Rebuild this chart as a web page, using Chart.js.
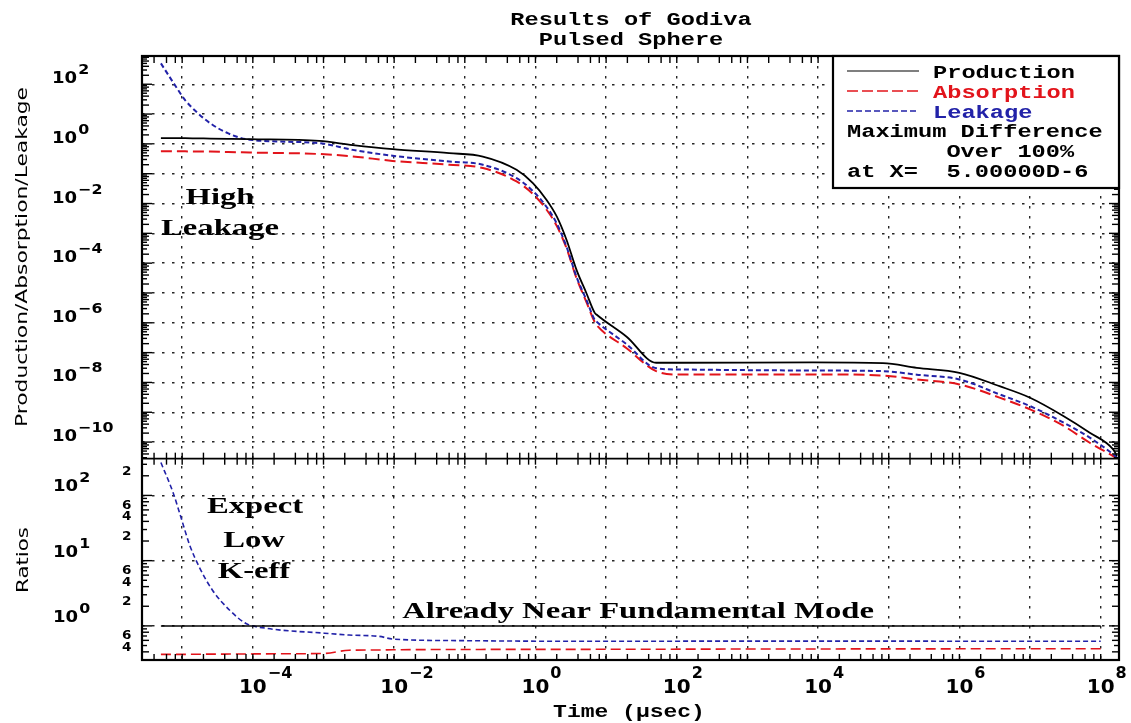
<!DOCTYPE html>
<html>
<head>
<meta charset="utf-8">
<title>Results of Godiva</title>
<script src="https://cdn.jsdelivr.net/npm/chart.js@4.4.1/dist/chart.umd.min.js"></script>
<style>
  html, body { margin: 0; padding: 0; background: #fff; }
  canvas { display: block; }
</style>
</head>
<body>
<canvas id="godivaChart" width="1131" height="723"></canvas>
<script>
// time grid (usec) for the upper panel curves
const times = [5e-6, 8e-6, 1.1e-5, 1.6e-5, 2.5e-5, 4.5e-5, 9e-5, 8.7e-4, 2.6e-3, 9.5e-3,
  0.06, 0.18, 0.54, 0.92, 1.43, 2.0, 2.75, 3.8, 5.25, 6.9, 7.3, 19.5, 51, 110,
  8.5e3, 8.3e4, 2.5e5, 1e6, 3.7e6, 1e7, 3e7, 7e7, 1.5e8, 1.7e8];
const production = [1.56, 1.55, 1.55, 1.53, 1.51, 1.48, 1.44, 1.26, 0.91, 0.667,
  0.49, 0.377, 0.135, 0.0485, 0.0134, 3.69e-3, 6.1e-4, 6.07e-5, 1.0e-5, 2.15e-6, 1.89e-6, 3.4e-7, 4.57e-8, 4.57e-8,
  4.68e-8, 4.44e-8, 3.1e-8, 2.11e-8, 7.5e-9, 3.08e-9, 7.4e-10, 2.07e-10, 5.7e-11, 3.4e-11];
const absorption = [0.571, 0.569, 0.562, 0.556, 0.55, 0.531, 0.513, 0.457, 0.38, 0.269,
  0.2, 0.155, 0.055, 0.0209, 6.3e-3, 1.78e-3, 3.2e-4, 3.2e-5, 5e-6, 1.05e-6, 8.5e-7, 1.41e-7, 2.4e-8, 1.85e-8,
  1.86e-8, 1.71e-8, 1.26e-8, 8.6e-9, 3.1e-9, 1.25e-9, 3.47e-10, 9.5e-11, 3.4e-11, 2.8e-11];
const leakage = [501, 89, 29.5, 11.7, 4.9, 2.24, 1.38, 1.06, 0.63, 0.40,
  0.257, 0.2, 0.0708, 0.0263, 7.8e-3, 2.14e-3, 3.55e-4, 3.55e-5, 5.9e-6, 1.26e-6, 1.1e-6, 1.9e-7, 3.0e-8, 2.72e-8,
  2.51e-8, 2.39e-8, 1.82e-8, 1.26e-8, 3.98e-9, 1.61e-9, 4.47e-10, 1.41e-10, 3.9e-11, 3.0e-11];

// ratios to production, lower panel
const ratioTimes = [5e-6, 7.4e-6, 9.7e-6, 1.27e-5, 1.76e-5, 2.7e-5, 4.7e-5, 8e-5, 1.55e-4,
  1.03e-3, 2.3e-3, 6.2e-3, 9.5e-3, 0.093, 4.2, 1.5e3, 1e8];
const productionRatio = [1, 1, 1, 1, 1, 1, 1, 1, 1, 1, 1, 1, 1, 1, 1, 1, 1];
const absorptionRatio = [0.366, 0.366, 0.366, 0.367, 0.368, 0.369, 0.37, 0.371, 0.373,
  0.378, 0.424, 0.427, 0.43, 0.435, 0.437, 0.442, 0.447];
const leakageRatio = [319, 112, 44.6, 17.6, 7.83, 3.49, 1.74, 1.09, 0.92,
  0.773, 0.724, 0.69, 0.628, 0.594, 0.58, 0.585, 0.58];

// decades carrying grid lines and labels
const xGridPowers = [-5, -4, -3, -2, -1, 0, 1, 2, 3, 4, 5, 6, 7, 8];
const xLabelPowers = [-4, -2, 0, 2, 4, 6, 8];
const yGridPowers = [-10, -9, -8, -7, -6, -5, -4, -3, -2, -1, 0, 1, 2];
const yLabelPowers = [2, 0, -2, -4, -6, -8, -10];
const ratioGridPowers = [0, 1, 2];
const ratioLabelPowers = [2, 1, 0];
const ratioMinorPowers = [-1, 0, 1, 2];
const ratioMinorDigits = [2, 4, 6];

const legendRows = [
  { text: 'Production', color: '#000000', dash: [] },
  { text: 'Absorption', color: '#e2141b', dash: [11, 4] },
  { text: 'Leakage', color: '#2222a8', dash: [6, 3] }
];
const noteRows = ['Maximum Difference', '       Over 100%', 'at X=  5.00000D-6'];

const pts = (xs, ys) => xs.map((t, i) => ({ x: t, y: ys[i] }));

const SANS = '"DejaVu Sans"';
const MONO = 'bold 18px "Liberation Mono"';
const SERIF = 'bold 24px "Liberation Serif"';

function stretchText(ctx, text, x, y, font, sx, align, color) {
  ctx.save();
  ctx.font = font;
  ctx.fillStyle = color || '#000';
  ctx.textAlign = align || 'left';
  ctx.textBaseline = 'alphabetic';
  ctx.translate(x, y);
  ctx.scale(sx, 1);
  ctx.fillText(text, 0, 0);
  ctx.restore();
}

function textWidth(ctx, text, font) {
  ctx.save();
  ctx.font = font;
  const w = ctx.measureText(text).width;
  ctx.restore();
  return w;
}

// monospaced text with a fixed character pitch
function monoText(ctx, text, x, y, color, pitch, align) {
  const sx = pitch / textWidth(ctx, 'M', MONO);
  stretchText(ctx, text, x, y, MONO, sx, align, color);
}

// rotated axis title, stretched to a given length
function sideTitle(ctx, text, x, yMid, len, font) {
  ctx.save();
  ctx.font = font;
  const sx = len / ctx.measureText(text).width;
  ctx.translate(x, yMid);
  ctx.rotate(-Math.PI / 2);
  ctx.scale(sx, 1);
  ctx.fillStyle = '#000';
  ctx.textAlign = 'center';
  ctx.textBaseline = 'alphabetic';
  ctx.fillText(text, 0, 0);
  ctx.restore();
}

// "10" with a raised exponent
function powerLabel(ctx, p, x, base, o) {
  const exp = p < 0 ? '\u2212' + Math.abs(p) : String(p);
  const w10 = textWidth(ctx, '10', o.font) * o.sx;
  const left = o.center ? x - w10 / 2 : x;
  stretchText(ctx, '10', left, base, o.font, o.sx);
  stretchText(ctx, exp, left + w10 + 1, base - o.rise, o.supFont, o.sx);
}

function seg(ctx, x1, y1, x2, y2) {
  ctx.beginPath();
  ctx.moveTo(x1, y1);
  ctx.lineTo(x2, y2);
  ctx.stroke();
}

const decor = {
  id: 'decor',
  beforeDraw(chart) {
    const ctx = chart.ctx;
    ctx.save();
    ctx.fillStyle = '#fff';
    ctx.fillRect(0, 0, chart.width, chart.height);
    ctx.restore();
  },
  afterDraw(chart) {
    const ctx = chart.ctx;
    const { x, y, yr } = chart.scales;
    const area = chart.chartArea;
    const mid = y.bottom;

    // tick marks on the frame and on the panel divider
    ctx.save();
    ctx.strokeStyle = '#000';
    ctx.lineWidth = 1.4;
    for (let e = -6; e <= 8; e++) {
      for (const m of [1, 2, 4, 6, 8]) {
        const v = m * Math.pow(10, e);
        if (v <= x.min || v >= x.max) continue;
        const px = x.getPixelForValue(v);
        seg(ctx, px, area.top, px, area.top + 7);
        seg(ctx, px, mid - 6, px, mid + 6);
        seg(ctx, px, area.bottom, px, area.bottom - 6);
      }
    }
    const yTicks = (scale, lo, hi) => {
      for (let e = lo; e <= hi; e++) {
        for (let m = 1; m <= 9; m++) {
          const v = m * Math.pow(10, e);
          if (v <= scale.min || v >= scale.max) continue;
          const py = scale.getPixelForValue(v);
          const len = m === 1 ? 10 : (m % 2 === 0 ? 7 : 5);
          seg(ctx, area.left, py, area.left + len, py);
          seg(ctx, area.right, py, area.right - len, py);
        }
      }
    };
    yTicks(y, -11, 2);
    yTicks(yr, -1, 2);

    // frame and divider
    ctx.lineWidth = 2.2;
    ctx.strokeRect(area.left, area.top, area.right - area.left, area.bottom - area.top);
    ctx.lineWidth = 1.8;
    seg(ctx, area.left, mid, area.right, mid);
    ctx.restore();

    // tick labels
    const yOpt = { font: 'bold 16px ' + SANS, supFont: 'bold 14px ' + SANS, sx: 1.13, rise: 9 };
    yLabelPowers.forEach(p => {
      powerLabel(ctx, p, 52, y.getPixelForValue(Math.pow(10, p)) - 1, yOpt);
    });
    ratioLabelPowers.forEach(p => {
      powerLabel(ctx, p, 53, yr.getPixelForValue(Math.pow(10, p)) - 4, yOpt);
    });
    ratioMinorPowers.forEach(p => {
      ratioMinorDigits.forEach(d => {
        const v = d * Math.pow(10, p);
        if (v <= yr.min || v >= yr.max) return;
        stretchText(ctx, String(d), 122, yr.getPixelForValue(v) - 1, 'bold 12px ' + SANS, 1.13);
      });
    });
    const xOpt = { font: 'bold 20px ' + SANS, supFont: 'bold 16px ' + SANS, sx: 1, rise: 15, center: true };
    xLabelPowers.forEach(p => {
      powerLabel(ctx, p, x.getPixelForValue(Math.pow(10, p)), 693, xOpt);
    });

    // titles
    monoText(ctx, 'Results of Godiva', 631, 25, '#000', 14.2, 'center');
    monoText(ctx, 'Pulsed Sphere', 631, 45, '#000', 14.2, 'center');
    monoText(ctx, 'Time (\u03bcsec)', 629, 717, '#000', 13.8, 'center');
    sideTitle(ctx, 'Production/Absorption/Leakage', 27, 257, 340, '15px ' + SANS);
    sideTitle(ctx, 'Ratios', 28, 560, 66, '16px ' + SANS);

    // notes written on the plot
    stretchText(ctx, 'High', 220, 204, SERIF, 1.36, 'center');
    stretchText(ctx, 'Leakage', 220, 235, SERIF, 1.36, 'center');
    stretchText(ctx, 'Expect', 255, 513, SERIF, 1.36, 'center');
    stretchText(ctx, 'Low', 254, 547, SERIF, 1.36, 'center');
    stretchText(ctx, 'K-eff', 254, 578, SERIF, 1.36, 'center');
    stretchText(ctx, 'Already Near Fundamental Mode', 638, 618, SERIF, 1.36, 'center');

    // legend box in the upper right corner
    const bx = 833, by = area.top, bw = area.right - bx, bh = 132;
    ctx.save();
    ctx.fillStyle = '#fff';
    ctx.fillRect(bx, by, bw, bh);
    ctx.strokeStyle = '#000';
    ctx.lineWidth = 2.2;
    ctx.strokeRect(bx, by, bw, bh);
    legendRows.forEach((row, i) => {
      const ly = by + 15 + i * 20;
      ctx.strokeStyle = row.color;
      ctx.lineWidth = row.dash.length ? 1.6 : 1.2;
      ctx.setLineDash(row.dash);
      seg(ctx, 847, ly, 919, ly);
      ctx.setLineDash([]);
      monoText(ctx, row.text, 933, ly + 6.5, row.color, 14.2, 'left');
    });
    noteRows.forEach((t, i) => {
      monoText(ctx, t, 847, by + 81 + i * 20, '#000', 14.2, 'left');
    });
    ctx.restore();
  }
};

const gridStyle = { color: 'rgba(0,0,0,0.85)', lineWidth: 1.4, drawTicks: false };
const gridBorder = { display: false, dash: [2.5, 7.5] };

new Chart(document.getElementById('godivaChart'), {
  type: 'line',
  data: {
    datasets: [
      { label: 'Production', data: pts(times, production), xAxisID: 'x', yAxisID: 'y',
        borderColor: '#000', borderWidth: 1.8 },
      { label: 'Leakage', data: pts(times, leakage), xAxisID: 'x', yAxisID: 'y',
        borderColor: '#2222a8', borderWidth: 2, borderDash: [5, 3] },
      { label: 'Absorption', data: pts(times, absorption), xAxisID: 'x', yAxisID: 'y',
        borderColor: '#e2141b', borderWidth: 2, borderDash: [11, 5] },
      { label: 'Production ratio', data: pts(ratioTimes, productionRatio), xAxisID: 'x', yAxisID: 'yr',
        borderColor: '#000', borderWidth: 1.5 },
      { label: 'Leakage ratio', data: pts(ratioTimes, leakageRatio), xAxisID: 'x', yAxisID: 'yr',
        borderColor: '#2222a8', borderWidth: 1.6, borderDash: [5, 3] },
      { label: 'Absorption ratio', data: pts(ratioTimes, absorptionRatio), xAxisID: 'x', yAxisID: 'yr',
        borderColor: '#e2141b', borderWidth: 1.6, borderDash: [10, 5] }
    ]
  },
  options: {
    responsive: false,
    animation: false,
    events: [],
    layout: { padding: { left: 142, top: 56, right: 12, bottom: 63 } },
    elements: {
      point: { radius: 0 },
      line: { cubicInterpolationMode: 'monotone', fill: false }
    },
    plugins: {
      legend: { display: false },
      title: { display: false },
      tooltip: { enabled: false }
    },
    scales: {
      x: {
        type: 'logarithmic', position: 'bottom', min: 2.7e-6, max: 1.815e8,
        afterBuildTicks: s => { s.ticks = xGridPowers.map(p => ({ value: Math.pow(10, p) })); },
        ticks: { display: false }, grid: gridStyle, border: gridBorder
      },
      y: {
        type: 'logarithmic', position: 'left', stack: 'panels', stackWeight: 2, weight: 1,
        min: 2.78e-11, max: 885,
        afterBuildTicks: s => { s.ticks = yGridPowers.map(p => ({ value: Math.pow(10, p) })); },
        ticks: { display: false }, grid: gridStyle, border: gridBorder
      },
      yr: {
        type: 'logarithmic', position: 'left', stack: 'panels', stackWeight: 1, weight: 0,
        min: 0.344, max: 366,
        afterBuildTicks: s => { s.ticks = ratioGridPowers.map(p => ({ value: Math.pow(10, p) })); },
        ticks: { display: false }, grid: gridStyle, border: gridBorder
      }
    }
  },
  plugins: [decor]
});
</script>
</body>
</html>
